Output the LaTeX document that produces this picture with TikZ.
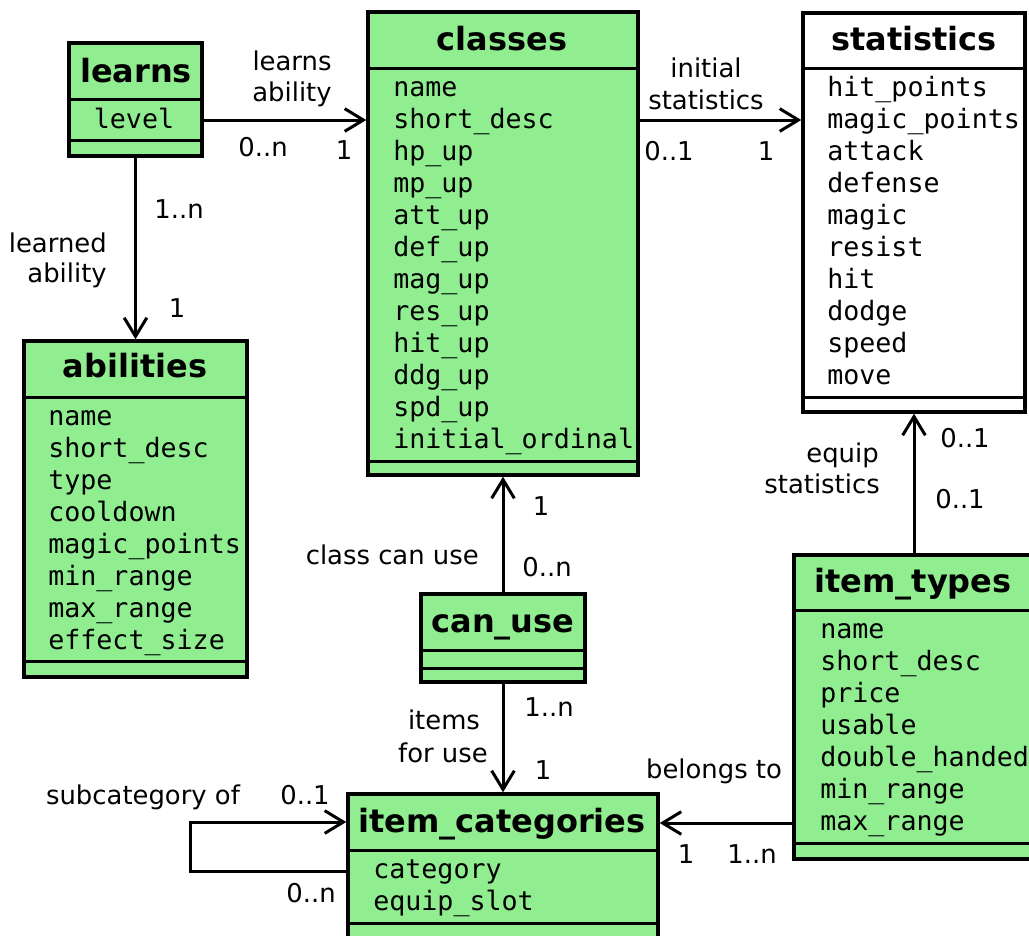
\documentclass[tikz,border=0pt]{standalone}
\usepackage{fontspec}
\setmainfont{DejaVu Sans}
\setmonofont{DejaVu Sans Mono}
\usetikzlibrary{arrows.meta,fit}
\definecolor{boxgreen}{RGB}{144,238,144}
\begin{document}
\begin{tikzpicture}[x=0.75pt,y=-0.75pt,
  box/.style={draw, line width=2.6pt, inner sep=0pt},
  gbox/.style={box, fill=boxgreen},
  wbox/.style={box, fill=white},
  sepl/.style={line width=2.25pt},
  attr/.style={anchor=base west, inner sep=0pt, font=\ttfamily\fontsize{20}{24}\selectfont},
  ttl/.style={anchor=base, inner sep=0pt, font=\bfseries\fontsize{24}{29}\selectfont},
  lbl/.style={anchor=base, inner sep=0pt, font=\fontsize{19.4}{23}\selectfont},
  lblr/.style={lbl, anchor=base east},
  conn/.style={line width=2.25pt, -{Straight Barb[length=14pt,width=17pt]}}]

\path[use as bounding box] (0,0) rectangle (1029,936);

% ---------- boxes ----------
\node[gbox, fit={(69,43) (202,156)}] (learns) {};
\node[gbox, fit={(368,12) (638,475)}] (classes) {};
\node[wbox, fit={(803,13) (1025,412)}] (statistics) {};
\node[gbox, fit={(24,341) (247,677)}] (abilities) {};
\node[gbox, fit={(421,594) (585,682)}] (canuse) {};
\node[gbox, fit={(348,794) (658,950)}] (itemcat) {};
\node[gbox, fit={(794,555) (1045,859)}] (itemtypes) {};

% ---------- separators ----------
\draw[sepl] (learns.west |- 0,99) -- (learns.east |- 0,99);
\draw[sepl] (learns.west |- 0,140) -- (learns.east |- 0,140);
\draw[sepl] (classes.west |- 0,68) -- (classes.east |- 0,68);
\draw[sepl] (classes.west |- 0,461) -- (classes.east |- 0,461);
\draw[sepl] (statistics.west |- 0,68) -- (statistics.east |- 0,68);
\draw[sepl] (statistics.west |- 0,397) -- (statistics.east |- 0,397);
\draw[sepl] (abilities.west |- 0,397) -- (abilities.east |- 0,397);
\draw[sepl] (abilities.west |- 0,661) -- (abilities.east |- 0,661);
\draw[sepl] (canuse.west |- 0,650) -- (canuse.east |- 0,650);
\draw[sepl] (canuse.west |- 0,668) -- (canuse.east |- 0,668);
\draw[sepl] (itemcat.west |- 0,850) -- (itemcat.east |- 0,850);
\draw[sepl] (itemcat.west |- 0,923) -- (itemcat.east |- 0,923);
\draw[sepl] (itemtypes.west |- 0,610) -- (itemtypes.east |- 0,610);
\draw[sepl] (itemtypes.west |- 0,843) -- (itemtypes.east |- 0,843);

% ---------- titles ----------
\node[ttl] (learnsT) at (136,82) {learns};
\node[ttl] (classesT) at (502,50) {classes};
\node[ttl] (statisticsT) at (914,50) {statistics};
\node[ttl] (abilitiesT) at (135,377) {abilities};
\node[ttl] (canuseT) at (503,632) {can\_use};
\node[ttl] (itemcatT) at (502,832) {item\_categories};
\node[ttl] (itemtypesT) at (913,592) {item\_types};

% ---------- attributes ----------
\node[attr, anchor=base] (learnsA) at (134,128) {level};
\foreach \t [count=\i from 0] in {name,short\_desc,hp\_up,mp\_up,att\_up,def\_up,mag\_up,res\_up,hit\_up,ddg\_up,spd\_up,initial\_ordinal}
  \node[attr] (cl\i) at (393,{96+32*\i}) {\t};
\foreach \t [count=\i from 0] in {hit\_points,magic\_points,attack,defense,magic,resist,hit,dodge,speed,move}
  \node[attr] (st\i) at (827,{96+32*\i}) {\t};
\foreach \t [count=\i from 0] in {name,short\_desc,type,cooldown,magic\_points,min\_range,max\_range,effect\_size}
  \node[attr] (ab\i) at (48,{425+32*\i}) {\t};
\foreach \t [count=\i from 0] in {name,short\_desc,price,usable,double\_handed,min\_range,max\_range}
  \node[attr] (it\i) at (820,{638+32*\i}) {\t};
\foreach \t [count=\i from 0] in {category,equip\_slot}
  \node[attr] (ic\i) at (373,{878+32*\i}) {\t};

% ---------- connectors ----------
\coordinate (loopA) at (190,871);
\coordinate (loopB) at (190,822);
\draw[conn] (learns.east |- 0,120) -- (classes.west |- 0,120);
\draw[conn] (learns.south) -- (abilities.north);
\draw[conn] (classes.east |- 0,120) -- (statistics.west |- 0,120);
\draw[conn] (canuse.north) -- (classes.south);
\draw[conn] (canuse.south) -- (itemcat.north);
\draw[conn] (itemtypes.north -| statistics.south) -- (statistics.south);
\draw[conn] (itemtypes.west |- 0,823) -- (itemcat.east |- 0,823);
\draw[conn] (itemcat.west |- loopA) -- (loopA) -- (loopB) -- (itemcat.west |- loopB);

% ---------- labels ----------
\node[lbl] (l1a) at (292,70) {learns};
\node[lbl] (l1b) at (292,101) {ability};
\node[lbl] (m1a) at (263,156) {0..n};
\node[lbl] (m1b) at (344,159) {1};
\node[lbl] (m2a) at (179,218) {1..n};
\node[lblr] (l2a) at (107,252) {learned};
\node[lblr] (l2b) at (107,282) {ability};
\node[lbl] (m2b) at (177,317) {1};
\node[lbl] (l3a) at (706,77) {initial};
\node[lbl] (l3b) at (706,109) {statistics};
\node[lbl] (m3a) at (669,160) {0..1};
\node[lbl] (m3b) at (766,160) {1};
\node[lbl] (m4a) at (541,515) {1};
\node[lblr] (l4) at (479,564) {class can use};
\node[lbl] (m4b) at (547,576) {0..n};
\node[lbl] (m5a) at (549,716) {1..n};
\node[lbl] (l5a) at (444,729) {items};
\node[lbl] (l5b) at (443,762) {for use};
\node[lbl] (m5b) at (543,779) {1};
\node[lbl] (m6a) at (965,447) {0..1};
\node[lblr] (l6a) at (879,462) {equip};
\node[lblr] (l6b) at (880,493) {statistics};
\node[lbl] (m6b) at (960,508) {0..1};
\node[lbl] (l7) at (714,778) {belongs to};
\node[lbl] (m7a) at (686,863) {1};
\node[lbl] (m7b) at (752,863) {1..n};
\node[lbl] (l8) at (143,804) {subcategory of};
\node[lbl] (m8a) at (305,804) {0..1};
\node[lbl] (m8b) at (311,902) {0..n};
\end{tikzpicture}
\end{document}
